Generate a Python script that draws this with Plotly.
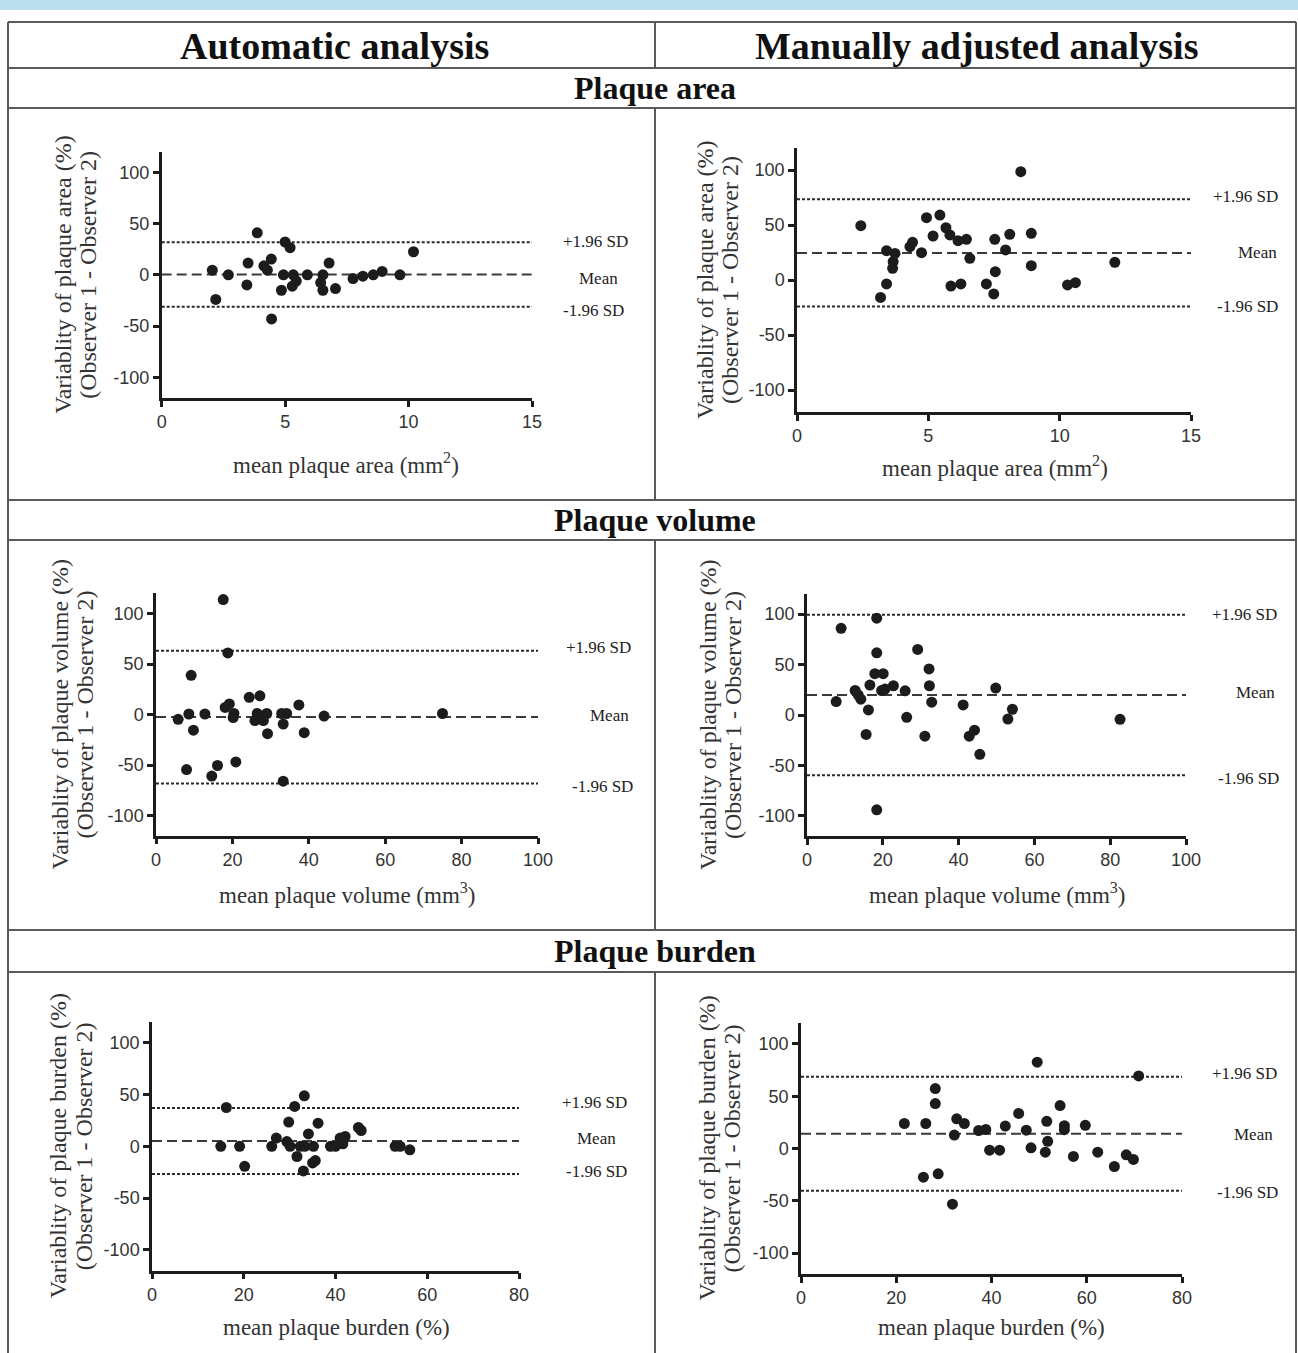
import plotly.graph_objects as go

W, H = 1298, 1353

# ---------------- data ----------------
area_auto_x = [3.87, 5.0, 5.2, 10.2, 2.05, 2.7, 3.5, 3.45, 2.19, 4.14, 4.44, 4.28, 4.45, 4.93, 5.33,
               4.85, 5.29, 5.45, 5.9, 6.53, 6.78, 6.44, 6.53, 7.04, 7.75, 8.15, 8.57, 8.93, 9.65]
area_auto_y = [41, 32, 26.5, 22.5, 4.6, 0, 11.5, -9.8, -24, 8.8, 15.4, 4.6, -43, 0, 0,
               -15, -11, -6, 0, 0, 11.5, -7.5, -15, -13.4, -3.6, -1.3, 0, 3.3, 0]
area_auto_lines = [0.4, 31.8, -31.0]   # mean, +1.96 SD, -1.96 SD

area_man_x = [8.52, 2.43, 4.93, 5.44, 5.18, 5.67, 5.82, 6.13, 6.45, 6.58, 4.30, 4.40, 4.74, 3.41, 3.73, 3.66,
              3.64, 3.41, 3.18, 5.86, 6.24, 7.21, 7.53, 7.55, 7.49, 7.94, 8.10, 8.92, 8.92, 10.3, 10.6, 12.1]
area_man_y = [98.5, 49.4, 56.7, 59, 40, 47.5, 41, 35.7, 37, 19.7, 30.3, 34.3, 24.8, 26.7, 24.2, 16.7,
              10.6, -3.6, -15.8, -5.5, -3.6, -3.6, 37, 7.6, -12.7, 27.3, 41.5, 42.4, 13, -4.5, -2.4, 16.1]
area_man_lines = [24.6, 73.4, -24.2]

vol_auto_x = [17.6, 18.8, 9.2, 5.8, 8.6, 12.8, 9.8, 8.0, 14.6, 16.1, 20.9, 18.1, 19.2, 20.4, 20.2,
              24.4, 27.2, 26.5, 25.9, 28.1, 29.0, 29.2, 32.9, 34.2, 33.3, 33.3, 37.4, 38.8, 44.0, 75.0]
vol_auto_y = [113.8, 61, 38.8, -4.8, 0.5, 0.5, -15.5, -54.5, -61, -50.5, -47, 7, 10.5, 1, -3,
              17, 18.5, 1, -6, -6, 1, -19, 1, 1, -9.5, -66, 9.5, -18, -1.5, 1]
vol_auto_lines = [-2.5, 63.2, -68.2]

vol_man_x = [18.4, 9.0, 18.4, 29.2, 17.9, 20.1, 32.2, 16.6, 22.8, 32.3, 19.7, 20.6, 12.7, 13.5, 14.2, 25.9,
             7.7, 32.9, 16.2, 26.3, 15.6, 31.1, 41.2, 49.8, 42.8, 44.2, 45.6, 54.2, 53.0, 82.6, 18.4]
vol_man_y = [96, 86, 61.7, 65, 41, 41, 45.7, 29.7, 29, 29, 24.3, 25.7, 24.3, 20, 15.7, 24,
             13.3, 12.7, 5, -2.3, -19.3, -21, 10, 26.7, -21, -15, -39, 5.7, -4, -4.3, -94]
vol_man_lines = [19.9, 99.5, -59.7]

bur_auto_x = [16.2, 15.0, 19.1, 20.2, 26.1, 27.1, 29.8, 31.1, 33.2, 29.4, 30.1, 31.6, 32.3, 33.3, 34.1,
              33.0, 35.2, 35.0, 35.6, 36.2, 38.9, 40.0, 41.0, 41.6, 42.1, 45.0, 45.6, 53.0, 54.1, 56.2]
bur_auto_y = [37.5, 0, 0, -19.3, 0, 8, 23.4, 38.5, 48.8, 4.6, 0, -9.8, 0, 0, 12,
              -23.7, 0, -16, -13.7, 22.4, 0, 0, 8, 2.4, 9.5, 18.2, 15.3, 0, 0, -3.4]
bur_auto_lines = [5.2, 36.9, -26.6]

bur_man_x = [49.6, 70.9, 28.2, 28.2, 21.7, 26.2, 32.7, 34.3, 32.2, 37.3, 38.8, 42.9, 39.6, 41.7, 45.7, 47.3,
             48.3, 51.6, 51.8, 51.3, 54.4, 55.3, 55.3, 59.7, 57.2, 62.3, 65.8, 68.3, 69.8, 25.7, 28.8, 31.8]
bur_man_y = [82.5, 69.4, 57.3, 43, 23.9, 23.9, 28.4, 23.9, 12.8, 17.2, 18.2, 21.4, -1.6, -1.6, 33.5, 17.5,
             0.6, 26, 6.9, -3.5, 41, 21.8, 18, 22.2, -7.6, -3.5, -17.2, -6, -10.5, -27.4, -24.2, -53.2]
bur_man_lines = [14.2, 68.7, -40.4]

col_titles = ["Automatic analysis", "Manually adjusted analysis"]
row_titles = ["Plaque area", "Plaque volume", "Plaque burden"]
line_labels = ["Mean", "+1.96 SD", "-1.96 SD"]
y_titles = ["Variablity of plaque area (%)", "Variablity of plaque volume (%)", "Variablity of plaque burden (%)"]
y_title2 = "(Observer 1 - Observer 2)"
x_titles = ["mean plaque area (mm<sup>2</sup>)", "mean plaque volume (mm<sup>3</sup>)", "mean plaque burden (%)"]
y_ticks = [-100, -50, 0, 50, 100]
y_ticktext = ["-100", "-50", "0", "50", "100"]
x_ticks = [[0, 5, 10, 15], [0, 20, 40, 60, 80, 100], [0, 20, 40, 60, 80]]
y_range = [-120, 120]

# ---------------- layout geometry (pixels) ----------------
panels = [
    dict(x=area_auto_x, y=area_auto_y, lines=area_auto_lines, row=0,
         px=(161.7, 532), py=(151.7, 398), yt=(63, 88), xt=(346, 463),
         lab_x=(598, 595, 593), lab_dy=(-4, 1, -4)),
    dict(x=area_man_x, y=area_man_y, lines=area_man_lines, row=0,
         px=(797, 1191), py=(148, 412), yt=(705, 730), xt=(995, 466),
         lab_x=(1257, 1245, 1247), lab_dy=(0, 3, 0)),
    dict(x=vol_auto_x, y=vol_auto_y, lines=vol_auto_lines, row=1,
         px=(156, 538), py=(593.3, 835.7), yt=(59, 84), xt=(347, 893),
         lab_x=(609, 598, 602), lab_dy=(2, 3, -3)),
    dict(x=vol_man_x, y=vol_man_y, lines=vol_man_lines, row=1,
         px=(807, 1186), py=(594, 836), yt=(708, 733), xt=(997, 893),
         lab_x=(1255, 1244, 1248), lab_dy=(2, 0, -3)),
    dict(x=bur_auto_x, y=bur_auto_y, lines=bur_auto_lines, row=2,
         px=(152, 519), py=(1022, 1270.7), yt=(58, 84), xt=(336, 1327),
         lab_x=(596, 594, 596), lab_dy=(2, 6, 2)),
    dict(x=bur_man_x, y=bur_man_y, lines=bur_man_lines, row=2,
         px=(801, 1182), py=(1023, 1274), yt=(706, 731), xt=(991, 1327),
         lab_x=(1253, 1244, 1247), lab_dy=(-1, 3, -2)),
]

SERIF = "Liberation Serif, Times New Roman, serif"
SANS = "Liberation Sans, Arial, sans-serif"
INK = "#1c1c1c"

fig = go.Figure()
layout = dict(width=W, height=H, autosize=False,
              margin=dict(l=0, r=0, t=0, b=0, pad=0, autoexpand=False),
              paper_bgcolor="white", plot_bgcolor="white", showlegend=False)
annotations = []
shapes = []

def fx(p):
    return p / W

def fy(p):
    return 1 - p / H

line_styles = [dict(dash="10px,5px", width=2, color="#3a3a3a"),
               dict(dash="3px,2px", width=2, color="#2a2a2a"),
               dict(dash="3px,2px", width=2, color="#2a2a2a")]

for i, p in enumerate(panels):
    n = i + 1
    xa = "x" if n == 1 else f"x{n}"
    ya = "y" if n == 1 else f"y{n}"
    xmax = x_ticks[p["row"]][-1]
    # reference lines
    for v, st in zip(p["lines"], line_styles):
        fig.add_trace(go.Scatter(x=[0, xmax], y=[v, v], mode="lines", line=st,
                                 xaxis=xa, yaxis=ya, hoverinfo="skip"))
    fig.add_trace(go.Scatter(x=p["x"], y=p["y"], mode="markers",
                             marker=dict(size=11, color=INK, line=dict(width=0)),
                             xaxis=xa, yaxis=ya, cliponaxis=False))
    common = dict(showline=True, linewidth=2.5, linecolor=INK, ticks="outside", ticklen=6,
                  tickwidth=2.5, tickcolor=INK, showgrid=False, zeroline=False, automargin=False,
                  tickfont=dict(family=SANS, size=18, color="#333"), fixedrange=True)
    layout["xaxis" if n == 1 else f"xaxis{n}"] = dict(
        common, domain=[fx(p["px"][0]), fx(p["px"][1])], range=[0, xmax],
        tickvals=x_ticks[p["row"]], ticktext=[str(t) for t in x_ticks[p["row"]]], anchor=ya)
    layout["yaxis" if n == 1 else f"yaxis{n}"] = dict(
        common, domain=[fy(p["py"][1]), fy(p["py"][0])], range=y_range,
        tickvals=y_ticks, ticktext=y_ticktext, anchor=xa)
    # y titles (two lines)
    yc = fy((p["py"][0] + p["py"][1]) / 2)
    for txt, xpos in zip([y_titles[p["row"]], y_title2], p["yt"]):
        annotations.append(dict(text=txt, x=fx(xpos), y=yc, xref="paper", yref="paper",
                                textangle=-90, showarrow=False, xanchor="center", yanchor="middle",
                                font=dict(family=SERIF, size=24, color="#333")))
    # x title
    annotations.append(dict(text=x_titles[p["row"]], x=fx(p["xt"][0]), y=fy(p["xt"][1]),
                            xref="paper", yref="paper", showarrow=False,
                            xanchor="center", yanchor="middle",
                            font=dict(family=SERIF, size=23, color="#333")))
    # line labels
    for lab, v, lx, dy in zip(line_labels, p["lines"], p["lab_x"], p["lab_dy"]):
        annotations.append(dict(text=lab, x=fx(lx), y=v, xref="paper", yref=ya,
                                yshift=dy, showarrow=False, xanchor="center", yanchor="middle",
                                font=dict(family=SERIF, size=17, color="#222")))

# ---------------- table frame ----------------
GRID = "#5a5a5a"
shapes.append(dict(type="rect", xref="paper", yref="paper", x0=0, x1=1, y0=fy(10), y1=1,
                   fillcolor="#bde0f0", line=dict(width=0), layer="below"))
for yy in [22, 68, 108, 500, 540, 930, 972]:
    shapes.append(dict(type="line", xref="paper", yref="paper", x0=fx(8), x1=fx(1296),
                       y0=fy(yy), y1=fy(yy), line=dict(color=GRID, width=2)))
for xx in [8, 1296]:
    shapes.append(dict(type="line", xref="paper", yref="paper", x0=fx(xx), x1=fx(xx),
                       y0=fy(22), y1=0, line=dict(color=GRID, width=2)))
for (a, b) in [(22, 68), (108, 500), (540, 930), (972, H)]:
    shapes.append(dict(type="line", xref="paper", yref="paper", x0=fx(655), x1=fx(655),
                       y0=fy(a), y1=fy(b), line=dict(color=GRID, width=2)))

for txt, xc in zip(col_titles, [334, 977]):
    annotations.append(dict(text=f"<b>{txt}</b>", x=fx(xc), y=fy(46), xref="paper", yref="paper",
                            showarrow=False, xanchor="center", yanchor="middle",
                            font=dict(family=SERIF, size=38, color="#111")))
for txt, yc in zip(row_titles, [88, 520, 951]):
    annotations.append(dict(text=f"<b>{txt}</b>", x=fx(655), y=fy(yc), xref="paper", yref="paper",
                            showarrow=False, xanchor="center", yanchor="middle",
                            font=dict(family=SERIF, size=32, color="#111")))

layout["annotations"] = annotations
layout["shapes"] = shapes
fig.update_layout(**layout)

post = ("document.documentElement.style.overflow='hidden';"
        "document.body.style.margin='0';document.body.style.padding='0';document.body.style.overflow='hidden';")

fig.write_html("out.html",
               config={"responsive": False, "displayModeBar": False},
               post_script=post)
